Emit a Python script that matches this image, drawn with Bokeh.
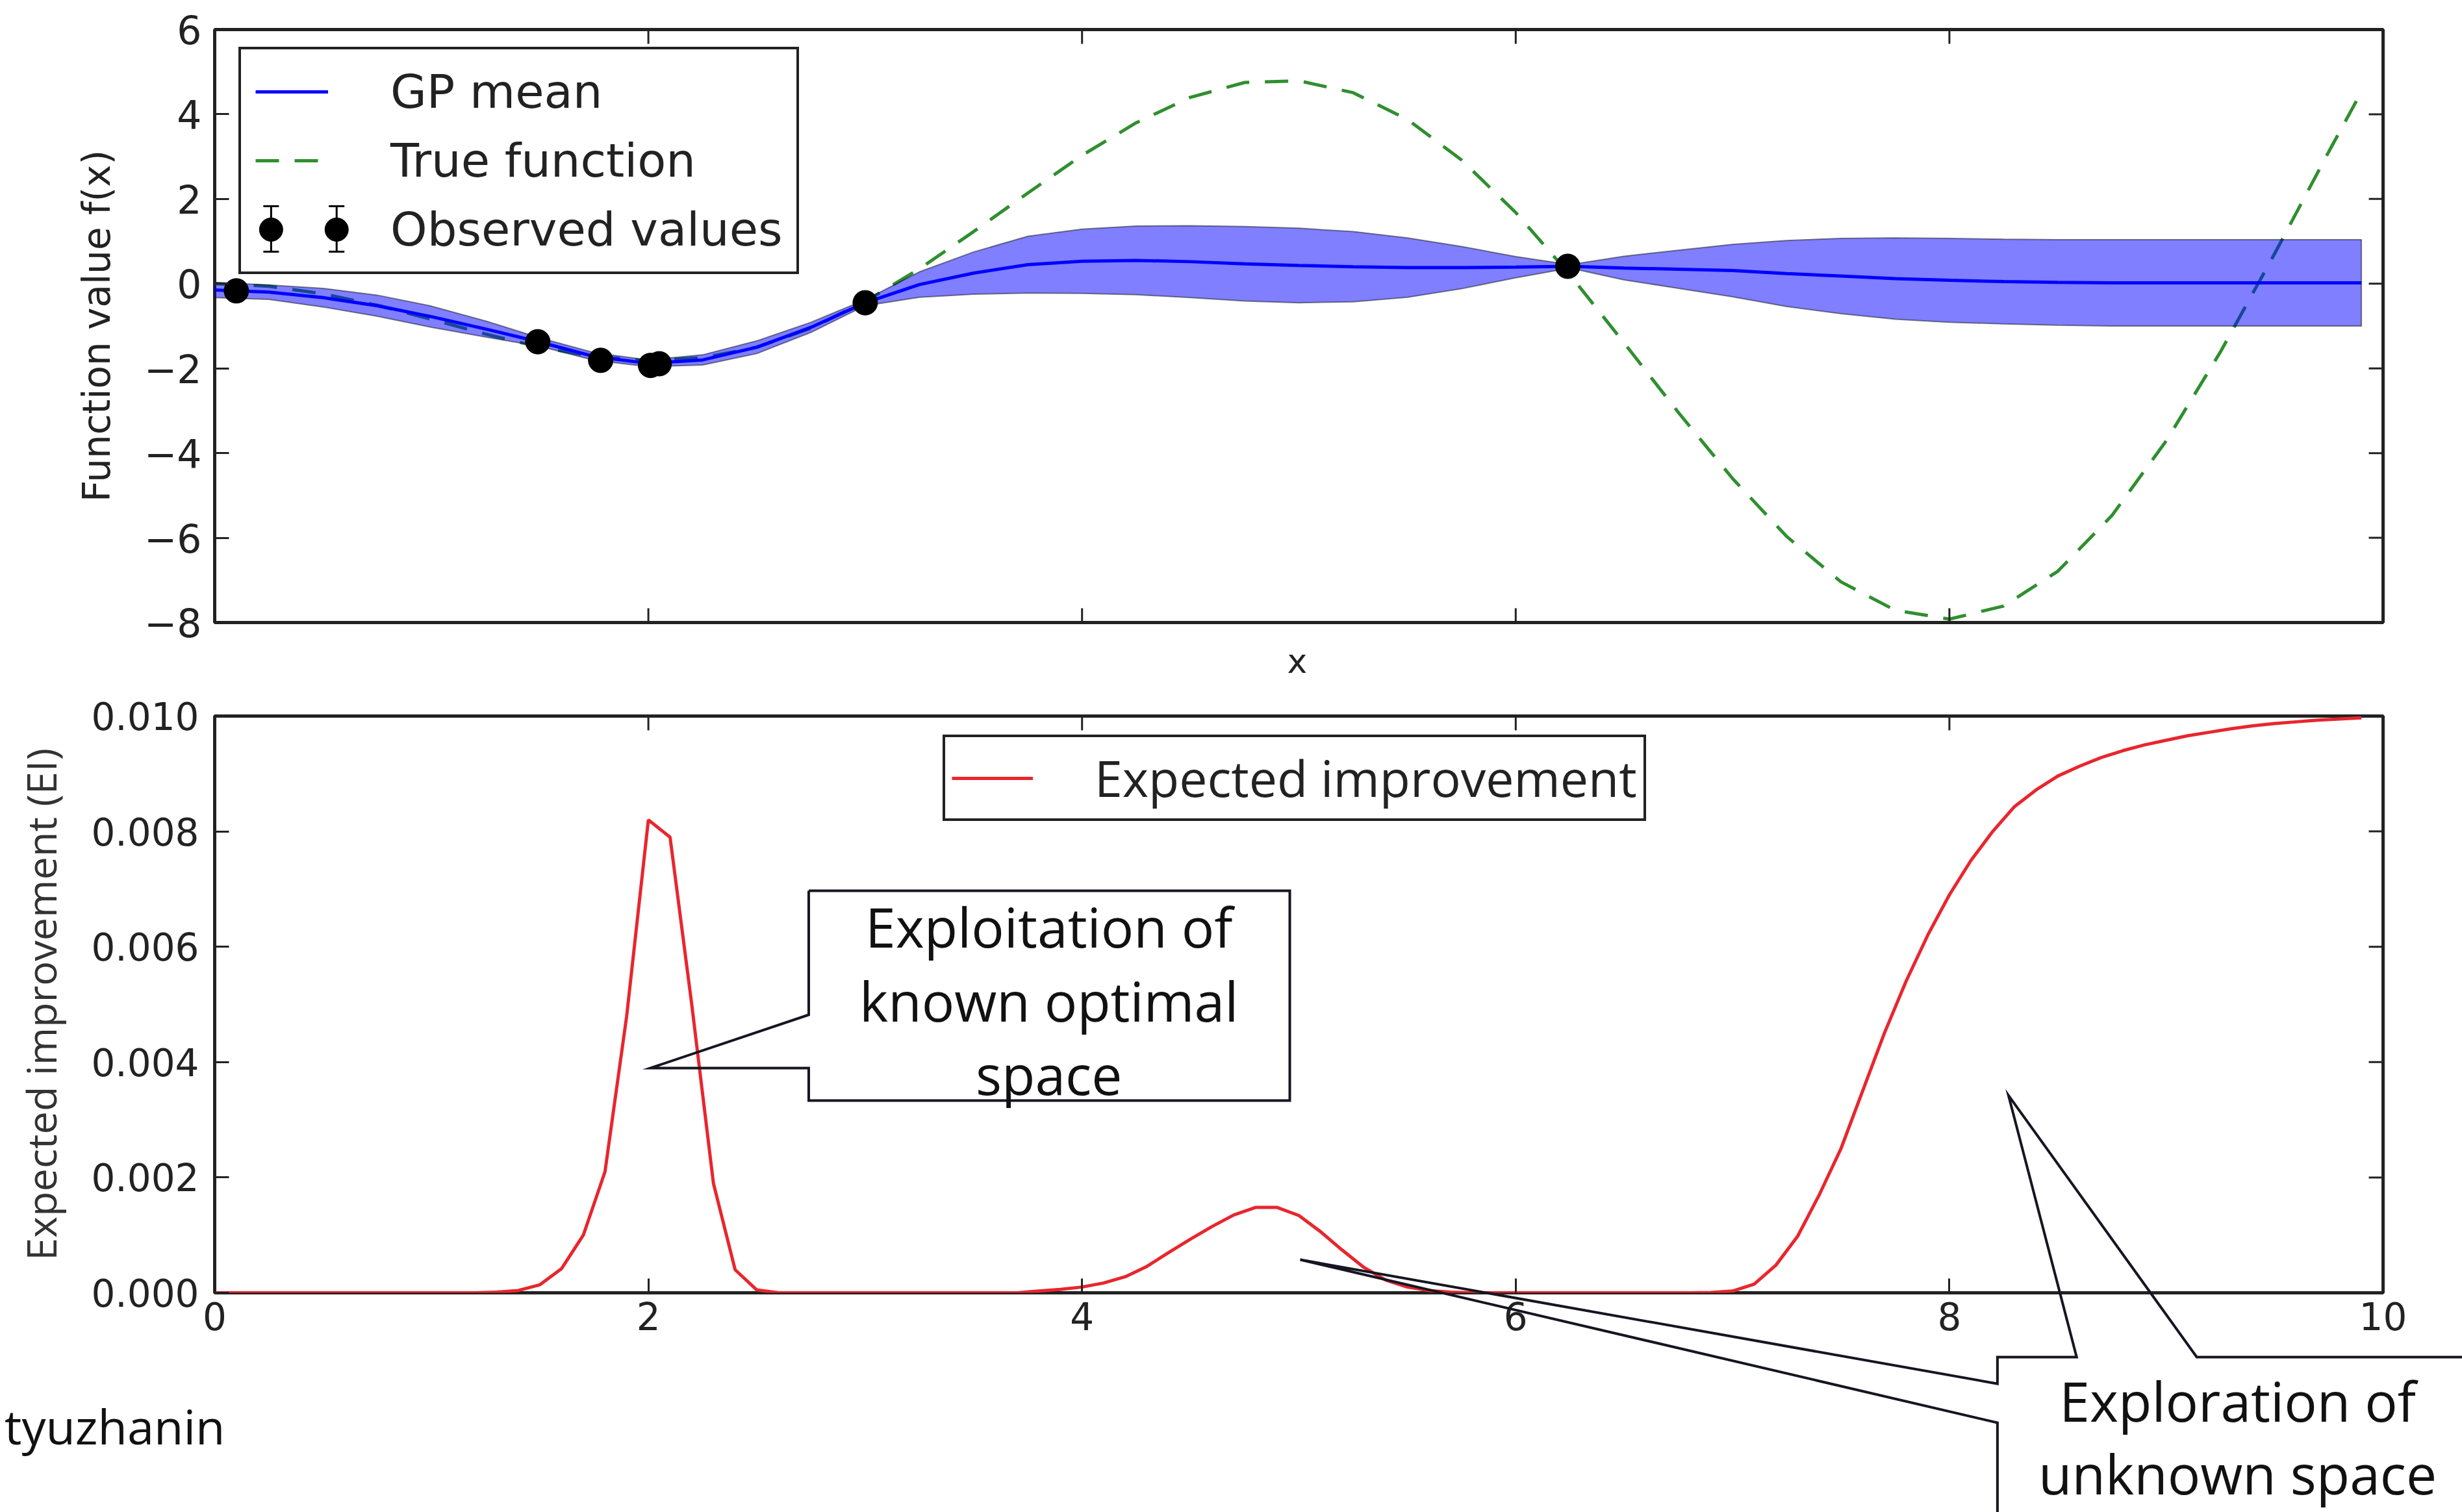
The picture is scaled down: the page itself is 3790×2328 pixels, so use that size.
import numpy as np
from bokeh.plotting import figure
from bokeh.layouts import column
from bokeh.models import (Range1d, FixedTicker, Legend, LegendItem,
                          PrintfTickFormatter)
from bokeh.core.properties import value
from bokeh.embed import file_html
from bokeh.resources import INLINE

# ---------------- data ----------------
gp_x = [0.0, 0.25, 0.5, 0.75, 1.0, 1.25, 1.5, 1.75, 2.0, 2.25, 2.5, 2.75, 3.0,
        3.25, 3.5, 3.75, 4.0, 4.25, 4.5, 4.75, 5.0, 5.25, 5.5, 5.75, 6.0, 6.25,
        6.5, 6.75, 7.0, 7.25, 7.5, 7.75, 8.0, 8.25, 8.5, 8.75, 9.0, 9.25, 9.5,
        9.75, 9.9]
true_function = [0.0, -0.06, -0.24, -0.51, -0.84, -1.19, -1.50, -1.72, -1.82,
                 -1.75, -1.50, -1.05, -0.42, 0.35, 1.23, 2.14, 3.03, 3.80, 4.40,
                 4.75, 4.79, 4.51, 3.88, 2.92, 1.68, 0.21, -1.40, -3.04, -4.60,
                 -5.97, -7.04, -7.71, -7.92, -7.61, -6.79, -5.47, -3.71, -1.61,
                 0.71, 3.12, 4.53]
gp_mean = [-0.15, -0.20, -0.33, -0.52, -0.78, -1.07, -1.38, -1.72, -1.88, -1.80,
           -1.50, -1.03, -0.45, -0.02, 0.25, 0.45, 0.53, 0.55, 0.52, 0.47, 0.43,
           0.40, 0.38, 0.38, 0.39, 0.41, 0.37, 0.34, 0.31, 0.24, 0.18, 0.12,
           0.08, 0.05, 0.03, 0.02, 0.02, 0.02, 0.02, 0.02, 0.02]
gp_halfwidth = [0.18, 0.17, 0.22, 0.25, 0.25, 0.19, 0.10, 0.09, 0.08, 0.12, 0.15,
                0.12, 0.07, 0.30, 0.50, 0.67, 0.76, 0.81, 0.85, 0.88, 0.88, 0.83,
                0.70, 0.50, 0.25, 0.04, 0.28, 0.45, 0.62, 0.78, 0.89, 0.96, 0.99,
                1.00, 1.01, 1.02, 1.02, 1.02, 1.02, 1.02, 1.02]
obs_x = [0.1, 1.49, 1.78, 2.01, 2.05, 3.0, 6.24]
obs_y = [-0.17, -1.37, -1.81, -1.93, -1.89, -0.45, 0.41]

ei_x = [0.0, 1.2, 1.3, 1.4, 1.5, 1.6, 1.7, 1.8, 1.9, 2.0, 2.1, 2.2, 2.3, 2.4,
        2.5, 2.6, 3.7, 3.8, 3.9, 4.0, 4.1, 4.2, 4.3, 4.4, 4.5, 4.6, 4.7, 4.8,
        4.9, 5.0, 5.1, 5.2, 5.3, 5.4, 5.5, 5.6, 5.7, 5.8, 6.8, 6.9, 7.0, 7.1,
        7.2, 7.3, 7.4, 7.5, 7.6, 7.7, 7.8, 7.9, 8.0, 8.1, 8.2, 8.3, 8.4, 8.5,
        8.6, 8.7, 8.8, 8.9, 9.0, 9.1, 9.2, 9.3, 9.4, 9.5, 9.6, 9.7, 9.8, 9.9]
ei_y = [0.0, 0.0, 0.00001, 0.00004, 0.00014, 0.00042, 0.0010, 0.0021, 0.0048,
        0.0082, 0.0079, 0.0050, 0.0019, 0.0004, 0.00005, 0.0, 0.0, 0.00003,
        0.00006, 0.0001, 0.00017, 0.00028, 0.00046, 0.0007, 0.00093, 0.00115,
        0.00135, 0.00148, 0.00148, 0.00134, 0.00106, 0.00074, 0.00044, 0.00022,
        0.0001, 0.00004, 0.00001, 0.0, 0.0, 0.000005, 0.00003, 0.00015, 0.00048,
        0.00098, 0.0017, 0.0025, 0.0035, 0.0045, 0.0054, 0.0062, 0.0069, 0.0075,
        0.0080, 0.00843, 0.00872, 0.00896, 0.00913, 0.00928, 0.0094, 0.0095,
        0.00958, 0.00966, 0.00972, 0.00978, 0.00983, 0.00987, 0.0099, 0.00993,
        0.00995, 0.00997]

x_ticks = [0, 2, 4, 6, 8, 10]
top_y_ticks = [-8, -6, -4, -2, 0, 2, 4, 6]
bottom_y_ticks = [0.0, 0.002, 0.004, 0.006, 0.008, 0.010]

callout1_lines = ["Exploitation of", "known optimal", "space"]
callout2_lines = ["Exploration of", "unknown space"]
author_text = "tyuzhanin"
top_x_label = "x"

gp_upper = [m + h for m, h in zip(gp_mean, gp_halfwidth)]
gp_lower = [m - h for m, h in zip(gp_mean, gp_halfwidth)]

INK = "#222222"
W, H = 3790, 2328
TICK = 22  # tick length in pixels

# planned frame geometry (page pixels)
T_LEFT, T_RIGHT, T_TOP, T_BOTTOM = 330, 3673, 45, 958
B_LEFT, B_RIGHT, B_TOP, B_BOTTOM = 328, 3668, 1102, 1990
H1 = 1060


# page pixel -> data helpers (for decorations placed outside / over the frames)
def t_x(px):
    return (px - T_LEFT) / (T_RIGHT - T_LEFT) * 10.0


def t_y(py):
    return 6.0 - (py - T_TOP) / (T_BOTTOM - T_TOP) * 14.0


def b_x(px):
    return (px - B_LEFT) / (B_RIGHT - B_LEFT) * 10.0


def b_y(py):
    return (B_BOTTOM - py) / (B_BOTTOM - B_TOP) * 0.010


def style_axis(ax, font, size):
    ax.axis_line_color = None
    ax.major_tick_in = TICK
    ax.major_tick_out = 0
    ax.major_tick_line_width = 3
    ax.major_tick_line_color = INK
    ax.minor_tick_line_color = None
    ax.major_label_text_font = font
    ax.major_label_text_color = INK
    ax.major_label_text_font_size = f"{size}px"


def base_figure(height, xr, yr, left, right, top, bottom):
    p = figure(width=W, height=height, output_backend="svg", toolbar_location=None,
               x_range=xr, y_range=yr, min_border_left=left, min_border_right=right,
               min_border_top=top, min_border_bottom=bottom)
    p.grid.visible = False
    p.outline_line_color = INK
    p.outline_line_width = 5
    p.background_fill_color = "white"
    p.border_fill_color = "white"
    return p


def mirror_ticks(p, xticks, yticks, x_edges, y_edges, dx, dy):
    # inward tick marks on the frame sides that carry no labels
    for ye, sgn in y_edges:
        p.segment(x0=xticks, y0=[ye] * len(xticks), x1=xticks,
                  y1=[ye + sgn * dy] * len(xticks), line_color=INK, line_width=3)
    for xe, sgn in x_edges:
        p.segment(x0=[xe] * len(yticks), y0=yticks, x1=[xe + sgn * dx] * len(yticks),
                  y1=yticks, line_color=INK, line_width=3)


# ---------------- top panel ----------------
p1 = base_figure(H1, Range1d(0, 10), Range1d(-8, 6), T_LEFT, W - T_RIGHT, T_TOP,
                 H1 - T_BOTTOM)

r_true = p1.line(gp_x, true_function, line_color="#2f8f2f", line_width=5,
                 line_dash="36 24")
r_mean = p1.line(gp_x, gp_mean, line_color="#0000ff", line_width=5)
p1.patch(gp_x + gp_x[::-1], gp_upper + gp_lower[::-1], fill_color="#0000ff",
         fill_alpha=0.5, line_color="black", line_alpha=0.45, line_width=2)
p1.scatter(obs_x, obs_y, size=38, marker="circle", fill_color="black",
           line_color="black")
# legend swatch for the observations (the errorbar key is drawn separately below)
r_obs_key = p1.scatter(x=[], y=[], size=30, fill_alpha=0, line_alpha=0)

p1.xaxis.visible = False
p1.yaxis.ticker = FixedTicker(ticks=top_y_ticks)
p1.yaxis.major_label_overrides = {v: (("\u2212%d" % -v) if v < 0 else "%d" % v)
                                  for v in top_y_ticks}
style_axis(p1.yaxis[0], "DejaVu Sans", 60)
p1.yaxis.major_label_standoff = 20
p1.yaxis.axis_label = "Function value f(x)"
p1.yaxis.axis_label_text_font = "DejaVu Sans"
p1.yaxis.axis_label_text_font_size = "58px"
p1.yaxis.axis_label_text_font_style = "normal"
p1.yaxis.axis_label_text_color = INK
p1.yaxis.axis_label_standoff = 36
mirror_ticks(p1, x_ticks, top_y_ticks, [(10, -1)], [(6, -1), (-8, 1)],
             TICK * 10 / (T_RIGHT - T_LEFT), TICK * 14 / (T_BOTTOM - T_TOP))

leg1 = Legend(items=[LegendItem(label="GP mean", renderers=[r_mean]),
                     LegendItem(label="True function", renderers=[r_true]),
                     LegendItem(label="Observed values", renderers=[r_obs_key])],
              location=(37, 536))
leg1.label_text_font = "DejaVu Sans"
leg1.label_text_font_size = "72px"
leg1.label_text_color = INK
leg1.glyph_width = 112
leg1.glyph_height = 86
leg1.label_height = 86
leg1.label_standoff = 96
leg1.spacing = 20
leg1.padding = 22
leg1.margin = 0
leg1.border_line_color = INK
leg1.border_line_alpha = 1
leg1.border_line_width = 4
leg1.background_fill_alpha = 0   # nothing of the data lies behind the legend box
p1.add_layout(leg1)

# errorbar key of "Observed values" inside the legend
key_px = [417, 518]
key_py = 353
kx = [t_x(v) for v in key_px]
p1.segment(x0=kx, y0=[t_y(key_py - 36)] * 2, x1=kx, y1=[t_y(key_py + 34)] * 2,
           line_color="black", line_width=3, level="overlay")
cap_x0 = [t_x(v - 12) for v in key_px] * 2
cap_x1 = [t_x(v + 12) for v in key_px] * 2
cap_y = [t_y(key_py - 36)] * 2 + [t_y(key_py + 34)] * 2
p1.segment(x0=cap_x0, y0=cap_y, x1=cap_x1, y1=cap_y, line_color="black",
           line_width=3, level="overlay")
p1.scatter(kx, [t_y(key_py)] * 2, size=36, marker="circle", fill_color="black",
           line_color="black", level="overlay")

# x-axis caption of the top panel (its tick labels are hidden)
p1.text(x=[t_x(1999)], y=[t_y(1017)], text=[top_x_label],
        text_font=value("DejaVu Sans"), text_font_size=value("52px"),
        text_color=INK, text_align="center", text_baseline="middle",
        level="overlay")

# ---------------- bottom panel ----------------
p2 = base_figure(H - H1, Range1d(0, 10), Range1d(0, 0.010), B_LEFT, W - B_RIGHT,
                 B_TOP - H1, H - B_BOTTOM)

r_ei = p2.line(ei_x, ei_y, line_color="#e8262e", line_width=5)

p2.xaxis.ticker = FixedTicker(ticks=x_ticks)
p2.yaxis.ticker = FixedTicker(ticks=bottom_y_ticks)
p2.yaxis.formatter = PrintfTickFormatter(format="%.3f")
style_axis(p2.xaxis[0], "DejaVu Sans", 58)
style_axis(p2.yaxis[0], "DejaVu Sans", 58)
p2.xaxis.major_label_standoff = 14
p2.yaxis.major_label_standoff = 24
p2.yaxis.axis_label = "Expected improvement (EI)"
p2.yaxis.axis_label_text_font = "Open Sans"
p2.yaxis.axis_label_text_font_size = "63px"
p2.yaxis.axis_label_text_font_style = "normal"
p2.yaxis.axis_label_text_color = "#333333"
p2.yaxis.axis_label_standoff = 32
mirror_ticks(p2, x_ticks, bottom_y_ticks, [(10, -1)], [(0.010, -1)],
             TICK * 10 / (B_RIGHT - B_LEFT), TICK * 0.010 / (B_BOTTOM - B_TOP))

leg2 = Legend(items=[LegendItem(label="Expected improvement", renderers=[r_ei])],
              location=(1121, 726))
leg2.label_text_font = "Open Sans"
leg2.label_text_font_size = "77px"
leg2.label_text_color = INK
leg2.glyph_width = 125
leg2.glyph_height = 60
leg2.label_height = 60
leg2.label_standoff = 95
leg2.padding = 10
leg2.margin = 0
leg2.border_line_color = INK
leg2.border_line_alpha = 1
leg2.border_line_width = 4
leg2.background_fill_alpha = 1
p2.add_layout(leg2)

# callout shapes (page pixels), drawn on the overlay level so they may leave the frame
callout1_px = [(1243, 1371), (1984, 1371), (1984, 1694), (1243, 1694),
               (1243, 1644), (999, 1644), (1243, 1562), (1243, 1371)]
callout2_px = [(3074, 2440), (3074, 2190), (2000, 1939), (3074, 2130),
               (3074, 2089), (3196, 2089), (3091, 1686), (3381, 2089),
               (3950, 2089)]
for pts in (callout1_px, callout2_px):
    p2.line([b_x(a) for a, b in pts], [b_y(b) for a, b in pts],
            line_color="#161622", line_width=4, line_join="miter", level="overlay")

p2.text(x=[b_x(1613)] * 3, y=[b_y(v) for v in (1426, 1540, 1653)],
        text=callout1_lines, text_font=value("Open Sans"),
        text_font_size=value("84px"), text_color="#111111", text_align="center",
        text_baseline="middle", level="overlay")
p2.text(x=[b_x(3444)] * 2, y=[b_y(v) for v in (2156, 2268)], text=callout2_lines,
        text_font=value("Open Sans"), text_font_size=value("84px"),
        text_color="#111111", text_align="center", text_baseline="middle",
        level="overlay")
p2.text(x=[b_x(344)], y=[b_y(2195)], text=[author_text],
        text_font=value("Open Sans"), text_font_size=value("74px"),
        text_color="#111111", text_align="right", text_baseline="middle",
        level="overlay")

layout = column(p1, p2, spacing=0)
open("out.html", "w").write(file_html(layout, INLINE))
